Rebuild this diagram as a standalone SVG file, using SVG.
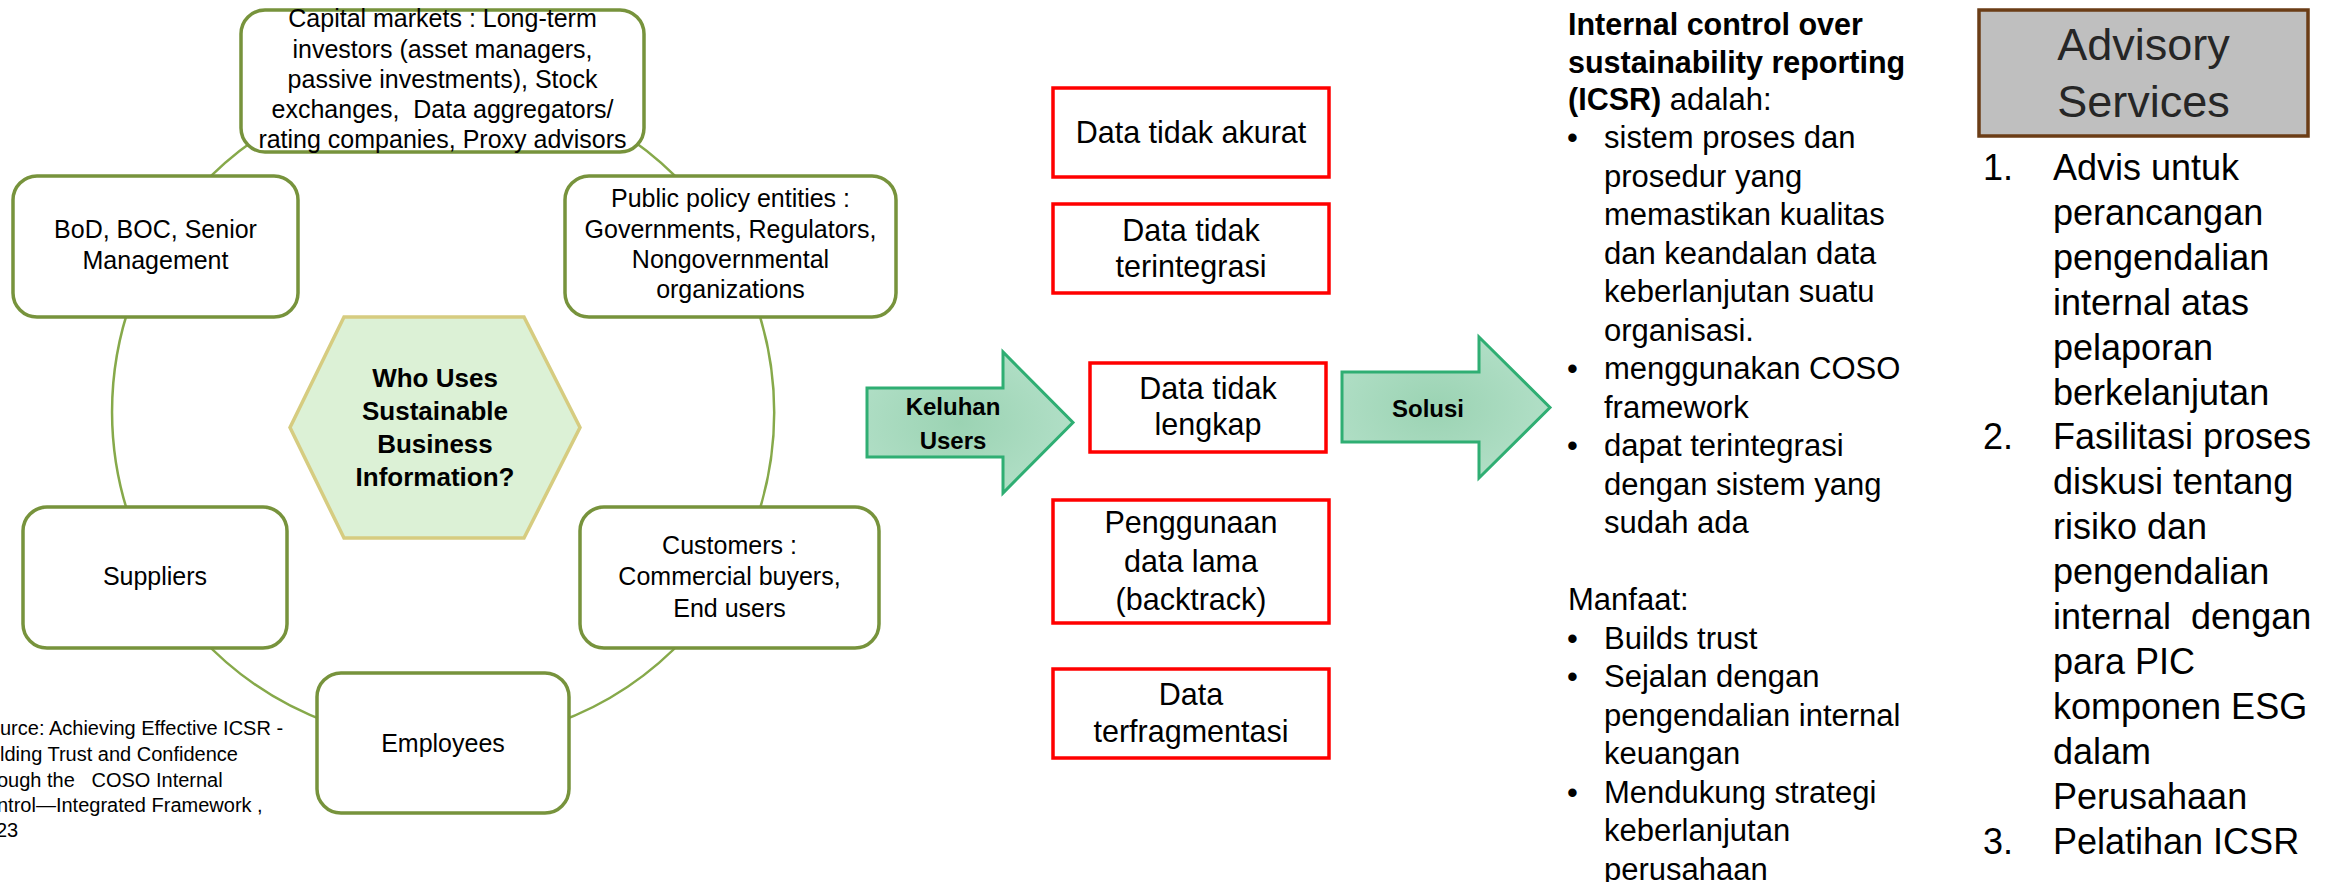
<svg xmlns="http://www.w3.org/2000/svg" width="2338" height="882" viewBox="0 0 2338 882">
<defs>
<radialGradient id="arrowFill" cx="0.45" cy="0.5" r="0.6">
<stop offset="0" stop-color="#9BD3B3"/>
<stop offset="1" stop-color="#B3E0C8"/>
</radialGradient>
<style>
text{font-family:"Liberation Sans",Arial,sans-serif;fill:#000;white-space:pre}
.gbox{fill:#fff;stroke:#77933C;stroke-width:3.5}
.ring{fill:none;stroke:#86A94A;stroke-width:2.5}
.rbox{fill:#fff;stroke:#FF0000;stroke-width:3.5}
.arrow{fill:url(#arrowFill);stroke:#2FAE73;stroke-width:3}
.lt{font-size:25px;text-anchor:middle}
.hx{font-size:26px;font-weight:bold;text-anchor:middle}
.src{font-size:20px}
.rt{font-size:30.5px;text-anchor:middle}
.at{font-size:24px;font-weight:bold;text-anchor:middle}
.mid{font-size:31px}
.midb{font-size:30.5px;font-weight:bold}
.adv{font-size:36px}
.advt{font-size:45px;text-anchor:middle;fill:#262626}
</style>
</defs>
<rect width="2338" height="882" fill="#fff"/>

<g id="connectors">
<path class="ring" d="M 254.4 140 A 331 331 0 0 0 197.5 190"/>
<path class="ring" d="M 131.5 300 A 331 331 0 0 0 132 525"/>
<path class="ring" d="M 198.4 635 A 331 331 0 0 0 330 723"/>
<path class="ring" d="M 556 723 A 331 331 0 0 0 687.6 635"/>
<path class="ring" d="M 754.5 525 A 331 331 0 0 0 754.5 300"/>
<path class="ring" d="M 688.5 190 A 331 331 0 0 0 632 140"/>
</g>

<g id="node-capital">
<rect class="gbox" x="241" y="10" width="403" height="142" rx="24"/>
<text class="lt"><tspan x="442.5" y="27">Capital markets : Long-term</tspan><tspan x="442.5" y="57.5">investors (asset managers,</tspan><tspan x="442.5" y="88">passive investments), Stock</tspan><tspan x="442.5" y="118">exchanges,  Data aggregators/</tspan><tspan x="442.5" y="148">rating companies, Proxy advisors</tspan></text>
</g>

<g id="node-bod">
<rect class="gbox" x="13" y="176" width="285" height="141" rx="24"/>
<text class="lt"><tspan x="155.5" y="238">BoD, BOC, Senior</tspan><tspan x="155.5" y="269">Management</tspan></text>
</g>

<g id="node-public">
<rect class="gbox" x="565" y="176" width="331" height="141" rx="24"/>
<text class="lt"><tspan x="730.5" y="207">Public policy entities :</tspan><tspan x="730.5" y="238">Governments, Regulators,</tspan><tspan x="730.5" y="268">Nongovernmental</tspan><tspan x="730.5" y="298">organizations</tspan></text>
</g>

<g id="node-center">
<polygon points="344,317 524,317 580,427.5 524,538 344,538 290,427.5" fill="#DCF1D6" stroke="#D6CC80" stroke-width="3.5"/>
<text class="hx"><tspan x="435" y="387">Who Uses</tspan><tspan x="435" y="420">Sustainable</tspan><tspan x="435" y="453">Business</tspan><tspan x="435" y="486">Information?</tspan></text>
</g>

<g id="node-suppliers">
<rect class="gbox" x="23" y="507" width="264" height="141" rx="24"/>
<text class="lt" x="155" y="585">Suppliers</text>
</g>

<g id="node-customers">
<rect class="gbox" x="580" y="507" width="299" height="141" rx="24"/>
<text class="lt"><tspan x="729.5" y="554">Customers :</tspan><tspan x="729.5" y="585">Commercial buyers,</tspan><tspan x="729.5" y="617">End users</tspan></text>
</g>

<g id="node-employees">
<rect class="gbox" x="317" y="673" width="252" height="140" rx="24"/>
<text class="lt" x="443" y="752">Employees</text>
</g>

<g id="source-note">
<text class="src"><tspan x="0" y="735">urce: Achieving Effective ICSR -</tspan><tspan x="0" y="761">lding Trust and Confidence</tspan><tspan x="-3" y="786.5">ough the   COSO Internal</tspan><tspan x="-3" y="812">ntrol—Integrated Framework ,</tspan><tspan x="-4" y="837">23</tspan></text>
</g>

<g id="arrow-keluhan">
<polygon class="arrow" points="867,388 1003,388 1003,352 1073,422.5 1003,493 1003,457 867,457"/>
<text class="at"><tspan x="953" y="415">Keluhan</tspan><tspan x="953" y="449">Users</tspan></text>
</g>

<g id="issue-akurat">
<rect class="rbox" x="1053" y="88" width="276" height="89"/>
<text class="rt" x="1191" y="143">Data tidak akurat</text>
</g>

<g id="issue-terintegrasi">
<rect class="rbox" x="1053" y="204" width="276" height="89"/>
<text class="rt"><tspan x="1191" y="241">Data tidak</tspan><tspan x="1191" y="277">terintegrasi</tspan></text>
</g>

<g id="issue-lengkap">
<rect class="rbox" x="1090" y="363" width="236" height="89"/>
<text class="rt"><tspan x="1208" y="399">Data tidak</tspan><tspan x="1208" y="435">lengkap</tspan></text>
</g>

<g id="issue-backtrack">
<rect class="rbox" x="1053" y="500" width="276" height="123"/>
<text class="rt"><tspan x="1191" y="533">Penggunaan</tspan><tspan x="1191" y="572">data lama</tspan><tspan x="1191" y="610">(backtrack)</tspan></text>
</g>

<g id="issue-fragmentasi">
<rect class="rbox" x="1053" y="669" width="276" height="89"/>
<text class="rt"><tspan x="1191" y="705">Data</tspan><tspan x="1191" y="742">terfragmentasi</tspan></text>
</g>

<g id="arrow-solusi">
<polygon class="arrow" points="1342,372 1479,372 1479,337 1550,407.5 1479,478 1479,442 1342,442"/>
<text class="at" x="1428" y="417">Solusi</text>
</g>

<g id="icsr-text">
<text class="midb"><tspan x="1568" y="35">Internal control over</tspan><tspan x="1568" y="73">sustainability reporting</tspan><tspan x="1568" y="110">(ICSR)</tspan><tspan style="font-weight:normal;font-size:31px"> adalah:</tspan></text>
<text class="mid">
<tspan x="1567" y="148">•</tspan><tspan x="1604" y="148">sistem proses dan</tspan>
<tspan x="1604" y="186.5">prosedur yang</tspan>
<tspan x="1604" y="225">memastikan kualitas</tspan>
<tspan x="1604" y="263.5">dan keandalan data</tspan>
<tspan x="1604" y="302">keberlanjutan suatu</tspan>
<tspan x="1604" y="340.5">organisasi.</tspan>
<tspan x="1567" y="379">•</tspan><tspan x="1604" y="379">menggunakan COSO</tspan>
<tspan x="1604" y="417.5">framework</tspan>
<tspan x="1567" y="456">•</tspan><tspan x="1604" y="456">dapat terintegrasi</tspan>
<tspan x="1604" y="494.5">dengan sistem yang</tspan>
<tspan x="1604" y="533">sudah ada</tspan>
<tspan x="1568" y="610">Manfaat:</tspan>
<tspan x="1567" y="648.5">•</tspan><tspan x="1604" y="648.5">Builds trust</tspan>
<tspan x="1567" y="687">•</tspan><tspan x="1604" y="687">Sejalan dengan</tspan>
<tspan x="1604" y="725.5">pengendalian internal</tspan>
<tspan x="1604" y="764">keuangan</tspan>
<tspan x="1567" y="802.5">•</tspan><tspan x="1604" y="802.5">Mendukung strategi</tspan>
<tspan x="1604" y="841">keberlanjutan</tspan>
<tspan x="1604" y="879.5">perusahaan</tspan>
</text>
</g>

<g id="advisory-header">
<rect x="1979" y="10" width="329" height="126" fill="#BFBFBF" stroke="#6B3D16" stroke-width="3.5"/>
<text class="advt"><tspan x="2143.5" y="60">Advisory</tspan><tspan x="2143.5" y="117">Services</tspan></text>
</g>

<g id="advisory-list">
<text class="adv">
<tspan x="1983" y="180">1.</tspan><tspan x="2053" y="180">Advis untuk</tspan>
<tspan x="2053" y="224.9">perancangan</tspan>
<tspan x="2053" y="269.8">pengendalian</tspan>
<tspan x="2053" y="314.7">internal atas</tspan>
<tspan x="2053" y="359.6">pelaporan</tspan>
<tspan x="2053" y="404.5">berkelanjutan</tspan>
<tspan x="1983" y="449.4">2.</tspan><tspan x="2053" y="449.4">Fasilitasi proses</tspan>
<tspan x="2053" y="494.3">diskusi tentang</tspan>
<tspan x="2053" y="539.2">risiko dan</tspan>
<tspan x="2053" y="584.1">pengendalian</tspan>
<tspan x="2053" y="629">internal  dengan</tspan>
<tspan x="2053" y="673.9">para PIC</tspan>
<tspan x="2053" y="718.8">komponen ESG</tspan>
<tspan x="2053" y="763.7">dalam</tspan>
<tspan x="2053" y="808.6">Perusahaan</tspan>
<tspan x="1983" y="853.5">3.</tspan><tspan x="2053" y="853.5">Pelatihan ICSR</tspan>
</text>
</g>
</svg>
